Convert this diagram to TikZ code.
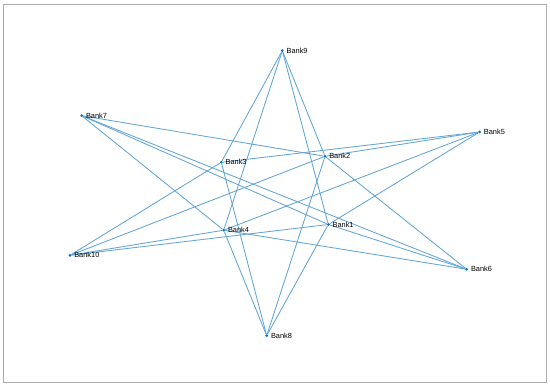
\documentclass[tikz,border=0pt]{standalone}
\usepackage{fontspec}
\setmainfont{Liberation Sans}
\usepackage{tikz}
\usetikzlibrary{positioning}
\usepackage{xcolor}
\definecolor{edgeblue}{HTML}{62A5D6}
\definecolor{nodeblue}{HTML}{0072BD}
\definecolor{framegray}{HTML}{ABABAB}
\pgfdeclarelayer{background}
\pgfsetlayers{background,main}

\begin{document}
\begin{tikzpicture}[
    x=1pt, y=-1pt,
    every node/.style={font=\fontsize{7.4}{8}\selectfont},
    bank/.style={circle, fill=nodeblue, inner sep=0pt, minimum size=3pt},
    tag/.style={anchor=west, inner sep=0pt, xshift=2.4pt, text=black},
    link/.style={draw=edgeblue, line width=0.85pt},
    frame/.style={draw=framegray, line width=1.2pt}
]
    \useasboundingbox (0,0) rectangle (550,387);
    \draw[frame] (3.6,4.2) rectangle (546.2,382.4);

    % Outer banks
    \node[bank, label={[tag]right:Bank9}] (b9) at (282.3,50.7) {};
    \node[bank, label={[tag]right:Bank7}] (b7) at (81.7,115.7) {};
    \node[bank, label={[tag]right:Bank5}] (b5) at (479.6,132) {};
    \node[bank, label={[tag]right:Bank10}] (b10) at (70,255.3) {};
    \node[bank, label={[tag]right:Bank6}] (b6) at (466.7,269.3) {};
    \node[bank, label={[tag]right:Bank8}] (b8) at (266.7,335.7) {};

    % Inner banks
    \node[bank, label={[tag]right:Bank2}] (b2) at (325,156.3) {};
    \node[bank, label={[tag]right:Bank3}] (b3) at (221.3,162.3) {};
    \node[bank, label={[tag]right:Bank1}] (b1) at (328.3,224.5) {};
    \node[bank, label={[tag]right:Bank4}] (b4) at (223.7,230.2) {};

    % Links
    \begin{pgfonlayer}{background}
    \draw[link] (b9) -- (b3);
    \draw[link] (b9) -- (b4);
    \draw[link] (b9) -- (b2);
    \draw[link] (b9) -- (b1);
    \draw[link] (b8) -- (b3);
    \draw[link] (b8) -- (b4);
    \draw[link] (b8) -- (b2);
    \draw[link] (b8) -- (b1);
    \draw[link] (b7) -- (b2);
    \draw[link] (b7) -- (b1);
    \draw[link] (b7) -- (b6);
    \draw[link] (b7) -- (b4);
    \draw[link] (b5) -- (b3);
    \draw[link] (b5) -- (b2);
    \draw[link] (b5) -- (b4);
    \draw[link] (b5) -- (b1);
    \draw[link] (b10) -- (b3);
    \draw[link] (b10) -- (b2);
    \draw[link] (b10) -- (b4);
    \draw[link] (b10) -- (b1);
    \draw[link] (b6) -- (b2);
    \draw[link] (b6) -- (b1);
    \draw[link] (b6) -- (b4);
    \end{pgfonlayer}
\end{tikzpicture}
\end{document}
